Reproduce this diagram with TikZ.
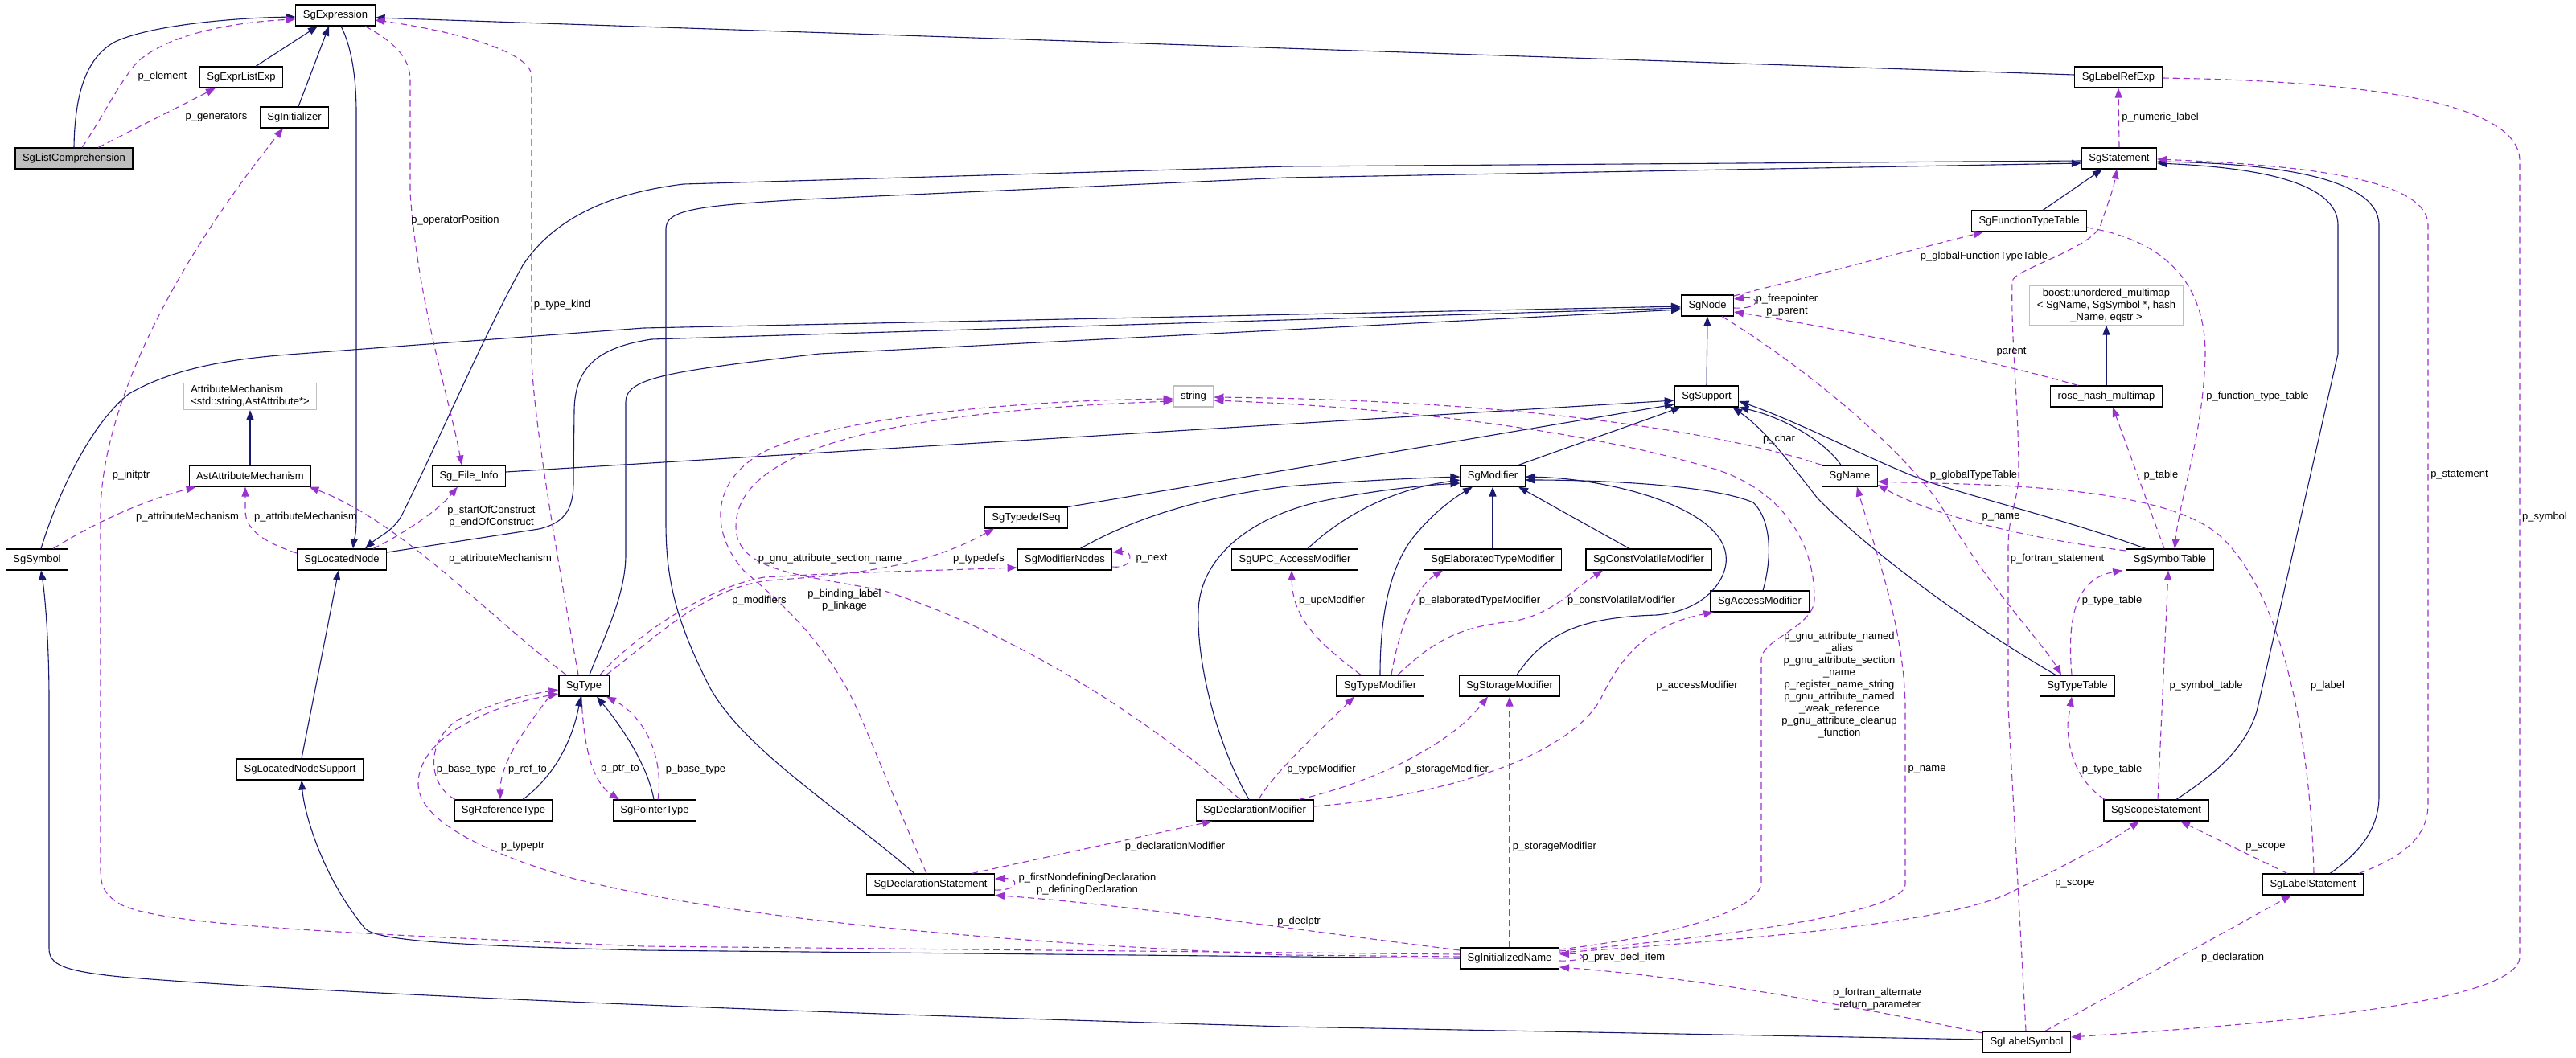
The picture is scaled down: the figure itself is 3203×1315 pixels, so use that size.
\documentclass[tikz,border=0pt]{standalone}
\usepackage{fontspec}
\setmainfont{Liberation Sans}
\usetikzlibrary{arrows.meta}
\definecolor{inhc}{HTML}{191970}
\definecolor{usec}{HTML}{9A32CD}
\definecolor{grayb}{HTML}{BFBFBF}
\begin{document}
\begin{tikzpicture}[x=1pt,y=-1pt,
  box/.style={draw=black,line width=1.1pt,fill=white,inner xsep=9pt,inner ysep=3pt,minimum height=26pt,font=\fontsize{13}{15}\selectfont},
  gbox/.style={box,draw=grayb},
  lbl/.style={inner sep=0pt,font=\fontsize{13}{15}\selectfont,align=center},
  inhe/.style={draw=inhc,line width=1.1pt,-{Triangle[length=12pt,width=9pt]}},
  usee/.style={draw=usec,line width=1.1pt,dash pattern=on 8pt off 5pt,-{Triangle[length=12pt,width=9pt]}}]
\fill[white] (0,0) rectangle (3203,1315);
\useasboundingbox (0,0) rectangle (3203,1315);
% nodes
\node[box,fill=grayb] (lc) at (92,197) {SgListComprehension};
\node[box] (ex) at (417,19) {SgExpression};
\node[box] (ele) at (300,96) {SgExprListExp};
\node[box] (ini) at (366,146) {SgInitializer};
\node[box] (lre) at (2634,96) {SgLabelRefExp};
\node[box] (st) at (2635,197) {SgStatement};
\node[box] (ftt) at (2523,275) {SgFunctionTypeTable};
\node[gbox,align=center] (bm) at (2619,380) {boost::unordered\_multimap\\< SgName, SgSymbol *, hash\\\_Name, eqstr >};
\node[box] (nd) at (2123,380) {SgNode};
\node[gbox,align=left] (am) at (311,493) {AttributeMechanism\\<std::string,AstAttribute*>};
\node[box] (aam) at (311,592) {AstAttributeMechanism};
\node[box] (fi) at (583,592) {Sg\_File\_Info};
\node[box] (sym) at (46,696) {SgSymbol};
\node[box] (ln) at (425,696) {SgLocatedNode};
\node[box] (ty) at (726,853) {SgType};
\node[gbox] (str) at (1484,493) {string};
\node[box] (tds) at (1276,644) {SgTypedefSeq};
\node[box] (mn) at (1324,696) {SgModifierNodes};
\node[box] (upc) at (1610,696) {SgUPC\_AccessModifier};
\node[box] (sup) at (2122,493) {SgSupport};
\node[box] (mod) at (1856,592) {SgModifier};
\node[box] (nm) at (2300,592) {SgName};
\node[box] (etm) at (1856,696) {SgElaboratedTypeModifier};
\node[box] (cvm) at (2050,696) {SgConstVolatileModifier};
\node[box] (acm) at (2188,748) {SgAccessModifier};
\node[box] (tm) at (1716,853) {SgTypeModifier};
\node[box] (sm) at (1877,853) {SgStorageModifier};
\node[box] (rhm) at (2619,493) {rose\_hash\_multimap};
\node[box] (stab) at (2698,696) {SgSymbolTable};
\node[box] (tt) at (2583,853) {SgTypeTable};
\node[box] (lns) at (373,957) {SgLocatedNodeSupport};
\node[box] (rt) at (626,1008) {SgReferenceType};
\node[box] (pt) at (814,1008) {SgPointerType};
\node[box] (ds) at (1157,1100) {SgDeclarationStatement};
\node[box] (dm) at (1560,1008) {SgDeclarationModifier};
\node[box] (inm) at (1877,1192) {SgInitializedName};
\node[box] (ss) at (2681,1008) {SgScopeStatement};
\node[box] (ls) at (2876,1100) {SgLabelStatement};
\node[box] (lsym) at (2520,1296) {SgLabelSymbol};
% inheritance
\draw[inhe] (lc.north) .. controls (93,110) and (110,70) .. (143,52) .. controls (190,30) and (300,22) .. ([yshift=-2pt]ex.west);
\draw[inhe] ([xshift=18pt]ele.north) -- ([xshift=-22pt]ex.south);
\draw[inhe] ([xshift=5pt]ini.north) -- ([xshift=-8pt]ex.south);
\draw[inhe] ([xshift=7pt]ex.south) .. controls (438,60) and (443,100) .. (443,140) -- (443,645) .. controls (443,668) and (440,672) .. ([xshift=14pt]ln.north);
\draw[inhe] ([yshift=3pt]lre.west) -- ([yshift=-3pt]ex.east);
\draw[inhe] ([yshift=-3pt]st.west) -- (1600,207) -- (850,229) .. controls (760,240) and (690,270) .. (650,330) .. controls (600,420) and (540,560) .. (500,640) .. controls (490,660) and (470,668) .. ([xshift=29pt]ln.north);
\draw[inhe] ([xshift=-20pt]ds.north) .. controls (1050,1010) and (920,930) .. (880,850) .. controls (840,770) and (828,720) .. (828,650) -- (828,285) .. controls (828,262) and (860,256) .. (1000,248) -- (1600,221) -- ([yshift=-6pt]st.west);
\draw[inhe] ([xshift=25pt]ss.north) .. controls (2750,965) and (2790,935) .. (2806,885) -- (2907,440) -- (2907,280) .. controls (2907,225) and (2800,208) .. ([yshift=-6pt]st.east);
\draw[inhe] ([xshift=21pt]ls.north) .. controls (2935,1060) and (2958,1030) .. (2958,990) -- (2958,280) .. controls (2958,215) and (2800,203) .. ([yshift=-4pt]st.east);
\draw[inhe] ([xshift=17pt]ftt.north) -- ([xshift=-21pt]st.south);
\draw[inhe] ([yshift=9pt]ln.east) -- (670,658) .. controls (705,650) and (713,630) .. (713,600) -- (714,510) .. controls (715,455) and (745,432) .. (810,422) -- ([yshift=-3pt]nd.west);
\draw[inhe] ([xshift=7pt]ty.north) .. controls (752,790) and (778,740) .. (778,690) -- (778,500) .. controls (778,470) and (830,462) .. (1019,440) -- ([yshift=-5pt]nd.west);
\draw[inhe] ([xshift=5pt]sym.north) .. controls (70,620) and (110,530) .. (160,490) .. controls (220,455) and (300,445) .. (372,440) -- (800,408) -- ([yshift=-1pt]nd.west);
\draw[inhe] (sup.north) -- (nd.south);
\draw[inhe] (rhm.north) -- (bm.south);
\draw[inhe] (aam.north) -- (am.south);
\draw[inhe] ([yshift=5pt]fi.east) -- ([yshift=-5pt]sup.west);
\draw[inhe] (tds.north east) -- ([yshift=-10pt]sup.west);
\draw[inhe] ([xshift=19pt]mn.north) .. controls (1400,650) and (1480,620) .. (1600,605) .. controls (1700,597) and (1780,594) .. ([yshift=-1pt]mod.west);
\draw[inhe] ([xshift=-7pt]dm.north) .. controls (1510,920) and (1488,820) .. (1490,760) .. controls (1492,690) and (1560,640) .. (1650,622) .. controls (1720,608) and (1780,603) .. ([yshift=-9pt]mod.west);
\draw[inhe] ([xshift=16pt]upc.north) .. controls (1660,650) and (1720,610) .. ([yshift=-5pt]mod.west);
\draw[inhe] (tm.north) .. controls (1716,760) and (1730,700) .. (1760,665) .. controls (1785,635) and (1810,618) .. ([xshift=-25pt]mod.south);
\draw[inhe] (etm.north) -- (mod.south);
\draw[inhe] ([xshift=-24pt]cvm.north) -- ([xshift=32pt]mod.south);
\draw[inhe] ([xshift=9pt]sm.north) .. controls (1920,790) and (1960,768) .. (2060,765) .. controls (2120,760) and (2150,720) .. (2146,690) .. controls (2138,630) and (2000,595) .. ([yshift=-1pt]mod.east);
\draw[inhe] ([xshift=4pt]acm.north) .. controls (2202,700) and (2205,650) .. (2180,625) .. controls (2120,600) and (1960,597) .. ([yshift=-5pt]mod.east);
\draw[inhe] ([xshift=32pt]mod.north) -- ([xshift=-32pt]sup.south);
\draw[inhe] ([xshift=-11pt]nm.north) .. controls (2270,550) and (2220,520) .. (sup.south east);
\draw[inhe] ([xshift=-30pt]stab.north) .. controls (2580,650) and (2460,620) .. (2400,600) .. controls (2330,575) and (2250,530) .. ([yshift=-6pt]sup.east);
\draw[inhe] ([xshift=-27pt]tt.north) .. controls (2470,790) and (2340,700) .. (2260,620) .. controls (2225,575) and (2195,535) .. ([xshift=-8pt]sup.south east);
\draw[inhe] ([yshift=3pt]lsym.west) -- (1600,1277) .. controls (1000,1260) and (400,1236) .. (150,1215) .. controls (80,1208) and (61,1200) .. (61,1180) -- (61,870) .. controls (61,800) and (56,740) .. ([xshift=5pt]sym.south);
\draw[inhe] (inm.west) -- (800,1182) .. controls (560,1176) and (470,1170) .. (454,1155) .. controls (400,1090) and (378,1010) .. ([xshift=2pt]lns.south);
\draw[inhe] ([xshift=2pt]lns.north) -- ([xshift=-4pt]ln.south);
\draw[inhe] ([xshift=24pt]rt.north) .. controls (690,965) and (712,920) .. ([xshift=-4pt]ty.south);
\draw[inhe] ([xshift=-1pt]pt.north) .. controls (805,950) and (770,900) .. ([xshift=16pt]ty.south);
% usage
\draw[usee] ([xshift=10pt]lc.north) .. controls (125,150) and (150,100) .. (170,78) .. controls (210,40) and (300,27) .. ([yshift=-5pt]ex.west);
\draw[usee] ([xshift=30pt]lc.north) -- ([xshift=-32pt]ele.south);
\draw[usee] ([xshift=37pt]ex.south) .. controls (495,55) and (510,75) .. (510,100) -- (510,240) .. controls (520,380) and (560,500) .. ([xshift=-9pt]fi.north);
\draw[usee] ([xshift=-7pt]ty.north) .. controls (705,760) and (661,520) .. (661,440) -- (661,95) .. controls (661,60) and (540,35) .. ([yshift=-6pt]ex.east);
\draw[usee] ([yshift=5pt]inm.west) -- (800,1177) .. controls (400,1160) and (200,1150) .. (150,1125) .. controls (128,1112) and (125,1100) .. (125,1080) -- (125,640) .. controls (125,520) and (200,350) .. ([xshift=-14pt]ini.south);
\draw[usee] ([xshift=20pt]sym.north) .. controls (110,655) and (170,625) .. ([xshift=9pt]aam.south west);
\draw[usee] ([yshift=8pt]ln.west) .. controls (330,675) and (305,660) .. (305,635) -- ([xshift=-6pt]aam.south);
\draw[usee] ([xshift=-22pt]ty.north) .. controls (600,760) and (500,650) .. ([xshift=-3pt]aam.south east);
\draw[usee] ([xshift=39pt]ln.north) .. controls (500,665) and (545,635) .. ([xshift=-14pt]fi.south);
\draw[usee] ([xshift=20pt]ty.north) .. controls (790,790) and (880,730) .. (950,718) .. controls (1050,712) and (1150,710) .. ([yshift=-10pt]mn.west);
\draw[usee] ([xshift=28pt]ty.north) .. controls (830,780) and (880,732) .. (955,722) .. controls (1080,714) and (1160,700) .. ([xshift=-40pt]tds.south);
\draw[usee] ([yshift=-9pt]mn.east) .. controls (1410,708) and (1410,684) .. ([yshift=9pt]mn.east);
\draw[usee] ([xshift=-5pt]ds.north) .. controls (1110,990) and (1075,900) .. (1060,870) .. controls (1020,790) and (960,740) .. (925,710) .. controls (885,665) and (880,600) .. (950,562) .. controls (1030,522) and (1250,498) .. ([yshift=-3pt]str.west);
\draw[usee] ([xshift=-18pt]dm.north) .. controls (1470,930) and (1300,800) .. (1100,735) .. controls (1000,715) and (915,712) .. (915,655) .. controls (915,560) and (1100,512) .. ([yshift=-6pt]str.west);
\draw[usee] (nm.north west) .. controls (2150,540) and (1900,498) .. ([yshift=-1pt]str.east);
\draw[usee] ([yshift=11pt]inm.east) .. controls (2050,1168) and (2180,1140) .. (2190,1100) -- (2190,820) .. controls (2190,795) and (2256,780) .. (2256,745) .. controls (2256,660) and (2200,600) .. (2120,580) .. controls (1950,530) and (1700,505) .. ([yshift=-5pt]str.east);
\draw[usee] ([yshift=9pt]inm.east) .. controls (2150,1165) and (2369,1135) .. (2369,1100) -- (2369,880) .. controls (2368,780) and (2330,680) .. ([xshift=9pt]nm.south);
\draw[usee] ([yshift=11pt]stab.west) .. controls (2520,670) and (2400,640) .. ([yshift=-11pt]nm.east);
\draw[usee] ([xshift=1pt]ls.north) .. controls (2874,960) and (2850,760) .. (2767,673) .. controls (2700,600) and (2450,603) .. ([yshift=-7pt]nm.east);
\draw[usee] ([yshift=-3pt]nd.east) .. controls (2190,385) and (2190,368) .. ([yshift=8pt]nd.east);
\draw[usee] ([xshift=-35pt]rhm.north) .. controls (2500,455) and (2300,410) .. ([yshift=-8pt]nd.east);
\draw[usee] ([yshift=12pt]nd.east) -- ([xshift=-57pt]ftt.south);
\draw[usee] ([xshift=18pt]nd.south) .. controls (2250,460) and (2380,570) .. (2420,640) .. controls (2480,740) and (2540,800) .. ([xshift=-20pt]tt.north);
\draw[usee] ([yshift=-8pt]ftt.east) .. controls (2700,300) and (2742,360) .. (2742,440) .. controls (2740,540) and (2710,620) .. ([xshift=6pt]stab.north);
\draw[usee] ([xshift=-7pt]stab.north) -- ([xshift=8pt]rhm.south);
\draw[usee] (st.north) -- (lre.south);
\draw[usee] ([xshift=57pt]ls.north) .. controls (2990,1065) and (3019,1040) .. (3019,1000) -- (3019,280) .. controls (3019,220) and (2850,205) .. ([yshift=-1pt]st.east);
\draw[usee] ([xshift=-1pt]lsym.north) -- (2497,880) -- (2497,680) .. controls (2497,640) and (2510,620) .. (2510,590) .. controls (2510,500) and (2500,420) .. (2502,350) .. controls (2503,335) and (2600,310) .. (2612,280) .. controls (2620,255) and (2628,235) .. ([xshift=-3pt]st.south);
\draw[usee] ([yshift=-1pt]lre.east) .. controls (2900,100) and (3133,120) .. (3133,200) -- (3133,1190) .. controls (3133,1250) and (2800,1275) .. ([yshift=6pt]lsym.east);
\draw[usee] ([xshift=-7pt]tt.north) .. controls (2570,770) and (2580,720) .. ([xshift=-4pt]stab.south west);
\draw[usee] ([xshift=-64pt]ss.north) .. controls (2580,970) and (2571,930) .. (2571,900) -- ([xshift=-7pt]tt.south);
\draw[usee] ([xshift=2pt]ss.north) -- ([xshift=-2pt]stab.south);
\draw[usee] ([xshift=-32pt]ls.north) -- ([xshift=30pt]ss.south);
\draw[usee] ([yshift=7pt]inm.east) .. controls (2150,1170) and (2420,1150) .. (2500,1110) .. controls (2560,1080) and (2620,1050) .. ([xshift=-21pt]ss.south);
\draw[usee] ([xshift=23pt]lsym.north) -- ([xshift=-27pt]ls.south);
\draw[usee] ([yshift=11pt]lsym.west) .. controls (2300,1250) and (2100,1215) .. ([yshift=-11pt]inm.east);
\draw[usee] ([yshift=-3pt]inm.east) .. controls (1975,1196) and (1975,1185) .. ([yshift=5pt]inm.east);
\draw[usee] ([yshift=10pt]inm.west) .. controls (1600,1155) and (1400,1125) .. (ds.south east);
\draw[usee] (inm.north) -- (sm.south);
\draw[usee] ([yshift=2pt]inm.west) -- (1600,1188) .. controls (1200,1170) and (900,1140) .. (714,1093) .. controls (600,1060) and (520,1020) .. (520,975) .. controls (520,920) and (600,880) .. ([yshift=-10pt]ty.west);
\draw[usee] ([xshift=-60pt]rt.north) .. controls (530,975) and (530,920) .. (570,895) .. controls (610,875) and (650,865) .. ([yshift=-5pt]ty.west);
\draw[usee] ([xshift=-43pt]ty.south) .. controls (650,910) and (622,950) .. ([xshift=-4pt]rt.north);
\draw[usee] ([xshift=-3pt]ty.south) .. controls (726,940) and (740,975) .. ([xshift=-44pt]pt.north);
\draw[usee] ([xshift=4pt]pt.north) .. controls (826,940) and (800,890) .. ([xshift=28pt]ty.south);
\draw[usee] ([yshift=-7pt]ds.east) .. controls (1268,1108) and (1268,1092) .. ([yshift=7pt]ds.east);
\draw[usee] ([xshift=51pt]ds.north) -- ([xshift=-53pt]dm.south);
\draw[usee] ([xshift=5pt]dm.north) .. controls (1585,960) and (1640,910) .. ([xshift=-32pt]tm.south);
\draw[usee] ([xshift=55pt]dm.north) .. controls (1700,975) and (1800,930) .. ([xshift=-27pt]sm.south);
\draw[usee] ([yshift=5pt]dm.east) .. controls (1800,990) and (1950,940) .. (1990,870) .. controls (2020,805) and (2060,775) .. ([xshift=4pt]acm.south west);
\draw[usee] ([xshift=-24pt]tm.north) .. controls (1640,800) and (1607,770) .. ([xshift=-4pt]upc.south);
\draw[usee] ([xshift=14pt]tm.north) .. controls (1740,780) and (1760,730) .. ([xshift=-62pt]etm.south);
\draw[usee] ([xshift=22pt]tm.north) .. controls (1780,800) and (1810,780) .. (1880,773) .. controls (1930,765) and (1960,730) .. ([xshift=-57pt]cvm.south);
% labels
\node[lbl] (a1) at (202,95) {p\_element};
\node[lbl] (a2) at (269,146) {p\_generators};
\node[lbl] (a3) at (566,274) {p\_operatorPosition};
\node[lbl] (a4) at (699,379) {p\_type\_kind};
\node[lbl] (a5) at (163,591) {p\_initptr};
\node[lbl] (a6) at (233,643) {p\_attributeMechanism};
\node[lbl] (a7) at (380,643) {p\_attributeMechanism};
\node[lbl] (a8) at (611,643) {p\_startOfConstruct\\p\_endOfConstruct};
\node[lbl] (a9) at (622,695) {p\_attributeMechanism};
\node[lbl] (a10) at (1032,695) {p\_gnu\_attribute\_section\_name};
\node[lbl] (a11) at (1217,695) {p\_typedefs};
\node[lbl] (a12) at (1432,695) {p\_next};
\node[lbl] (a13) at (944,747) {p\_modifiers};
\node[lbl] (a14) at (1050,747) {p\_binding\_label\\p\_linkage};
\node[lbl] (a15) at (2212,546) {p\_char};
\node[lbl] (a16) at (1656,747) {p\_upcModifier};
\node[lbl] (a17) at (1840,747) {p\_elaboratedTypeModifier};
\node[lbl] (a18) at (2016,747) {p\_constVolatileModifier};
\node[lbl] (a19) at (2110,853) {p\_accessModifier};
\node[lbl] (a20) at (2287,852) {p\_gnu\_attribute\_named\\\_alias\\p\_gnu\_attribute\_section\\\_name\\p\_register\_name\_string\\p\_gnu\_attribute\_named\\\_weak\_reference\\p\_gnu\_attribute\_cleanup\\\_function};
\node[lbl] (a21) at (2222,380) {p\_freepointer\\p\_parent};
\node[lbl] (a22) at (2467,319) {p\_globalFunctionTypeTable};
\node[lbl] (a23) at (2686,146) {p\_numeric\_label};
\node[lbl] (a24) at (2501,438) {parent};
\node[lbl] (a25) at (2807,493) {p\_function\_type\_table};
\node[lbl] (a26) at (2454,591) {p\_globalTypeTable};
\node[lbl] (a27) at (2687,591) {p\_table};
\node[lbl] (a28) at (3058,591) {p\_statement};
\node[lbl] (a29) at (2488,643) {p\_name};
\node[lbl] (a30) at (3164,643) {p\_symbol};
\node[lbl] (a31) at (2558,695) {p\_fortran\_statement};
\node[lbl] (a32) at (2626,747) {p\_type\_table};
\node[lbl] (a33) at (2743,853) {p\_symbol\_table};
\node[lbl] (a34) at (2894,853) {p\_label};
\node[lbl] (a35) at (580,957) {p\_base\_type};
\node[lbl] (a36) at (656,957) {p\_ref\_to};
\node[lbl] (a37) at (771,957) {p\_ptr\_to};
\node[lbl] (a38) at (650,1053) {p\_typeptr};
\node[lbl] (a39) at (865,957) {p\_base\_type};
\node[lbl] (a40) at (1461,1053) {p\_declarationModifier};
\node[lbl] (a41) at (1352,1100) {p\_firstNondefiningDeclaration\\p\_definingDeclaration};
\node[lbl] (a42) at (1615,1146) {p\_declptr};
\node[lbl] (a43) at (1643,957) {p\_typeModifier};
\node[lbl] (a44) at (1799,957) {p\_storageModifier};
\node[lbl] (a45) at (1933,1053) {p\_storageModifier};
\node[lbl] (a46) at (2019,1191) {p\_prev\_decl\_item};
\node[lbl] (a47) at (2334,1243) {p\_fortran\_alternate\\\_return\_parameter};
\node[lbl] (a48) at (2396,957) {p\_name};
\node[lbl] (a49) at (2626,957) {p\_type\_table};
\node[lbl] (a50) at (2817,1053) {p\_scope};
\node[lbl] (a51) at (2580,1099) {p\_scope};
\node[lbl] (a52) at (2776,1191) {p\_declaration};
\end{tikzpicture}
\end{document}
